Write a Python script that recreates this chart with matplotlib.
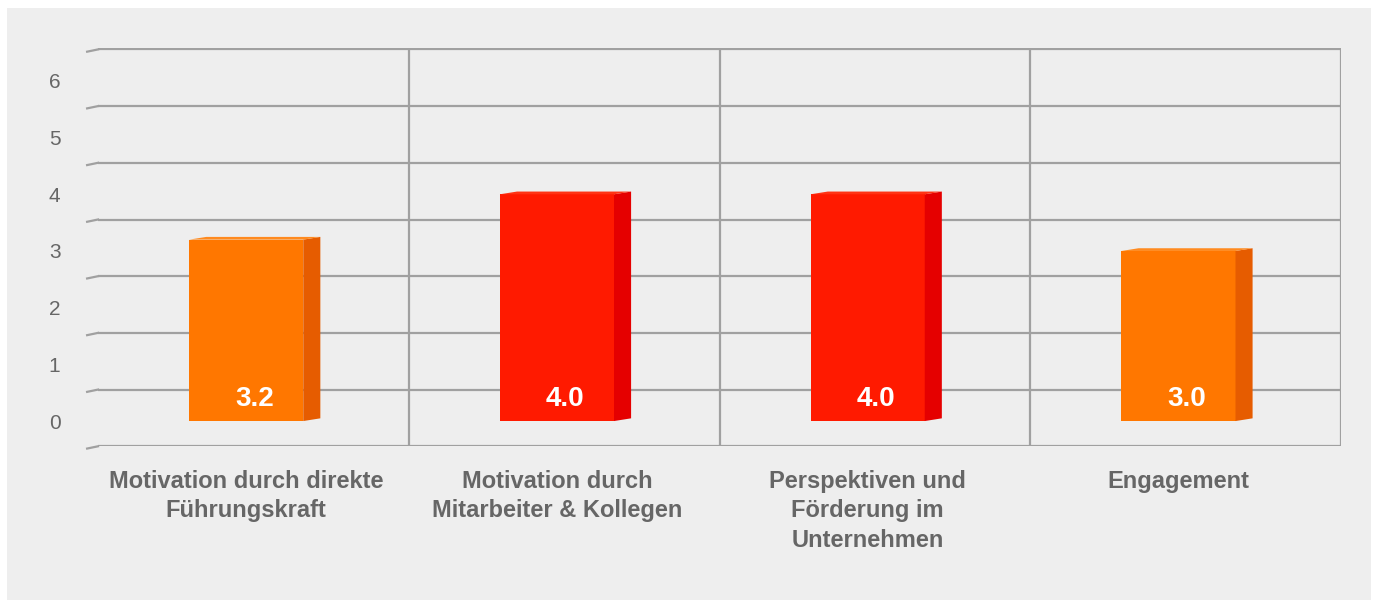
import numpy as np
import matplotlib
matplotlib.use("Agg")
import matplotlib.pyplot as plt
from matplotlib.patches import Polygon, Rectangle

categories = ["Motivation durch direkte\nFührungskraft",
              "Motivation durch\nMitarbeiter & Kollegen",
              "Perspektiven und\nFörderung im\nUnternehmen",
              "Engagement"]
values = [3.2, 4.0, 4.0, 3.0]
value_labels = ["3.2", "4.0", "4.0", "3.0"]
front_colors = ["#FF7700", "#FF1A00", "#FF1A00", "#FF7700"]
side_colors = ["#E65C00", "#E50000", "#E50000", "#E65C00"]
top_colors = ["#FF8A1F", "#FF3314", "#FF3314", "#FF8A1F"]
ytick_values = [0, 1, 2, 3, 4, 5, 6]

plt.rcParams['font.family'] = ['Liberation Sans', 'DejaVu Sans']

W, H = 1374, 602
fig = plt.figure(figsize=(W / 100, H / 100), dpi=100)
fig.patch.set_facecolor("white")
fig.add_artist(Rectangle((7 / W, (H - 600) / H), (1371 - 7) / W, (600 - 8) / H,
                         transform=fig.transFigure, facecolor="#EEEEEE",
                         edgecolor="none", zorder=0))

ax_left, ax_right = 98, 1341
ax_top, ax_bot = 48, 446
ax = fig.add_axes([ax_left / W, (H - ax_bot) / H, (ax_right - ax_left) / W, (ax_bot - ax_top) / H])
ax.set_facecolor("none")
ax.set_xlim(-0.5, 3.5)
ax.set_ylim(-0.44, 6.58)
for s in ax.spines.values():
    s.set_visible(False)

grid_color = "#A0A0A0"
grid_y = np.arange(8) - 0.445
for gy in grid_y:
    ax.plot([-0.5, 3.5], [gy, gy], color=grid_color, lw=1.6, zorder=1, solid_capstyle="butt")
    ax.plot([-0.535, -0.5], [gy - 0.04, gy], color=grid_color, lw=1.6, zorder=1, clip_on=False)
for vx in [0.5, 1.5, 2.5, 3.5]:
    ax.plot([vx, vx], [grid_y[0], grid_y[-1]], color=grid_color, lw=1.6, zorder=1)

x = np.arange(len(values))
front_w = 0.367
shift = -0.023
depth_x = 0.055
depth_y = 0.048
base = 0.0

bars = ax.bar(x + shift, values, width=front_w, color=front_colors, zorder=3,
              linewidth=0)
for i, b in enumerate(bars):
    x0 = b.get_x()
    x1 = x0 + b.get_width()
    v = b.get_height()
    side = Polygon([[x1, base], [x1 + depth_x, base + depth_y],
                    [x1 + depth_x, v + depth_y], [x1, v]],
                   closed=True, facecolor=side_colors[i], edgecolor="none", zorder=3)
    top = Polygon([[x0, v], [x0 + depth_x, v + depth_y],
                   [x1 + depth_x, v + depth_y], [x1, v]],
                  closed=True, facecolor=top_colors[i], edgecolor="none", zorder=3)
    ax.add_patch(side)
    ax.add_patch(top)
    ax.text(x[i] + 0.003, 0.39, value_labels[i], ha="center", va="center",
            color="white", fontsize=20, fontweight="bold", zorder=4)
    ax.text(x[i] + shift, -0.86, categories[i], ha="center", va="top",
            color="#666666", fontsize=17, fontweight="bold", linespacing=1.37,
            clip_on=False)

ax.set_xticks([])
ax.set_yticks(ytick_values)
ax.set_yticklabels([str(t) for t in ytick_values], fontsize=15, color="#666666")
ax.tick_params(axis="y", length=0, pad=27)

fig.savefig("out.png", dpi=100, facecolor="white")
